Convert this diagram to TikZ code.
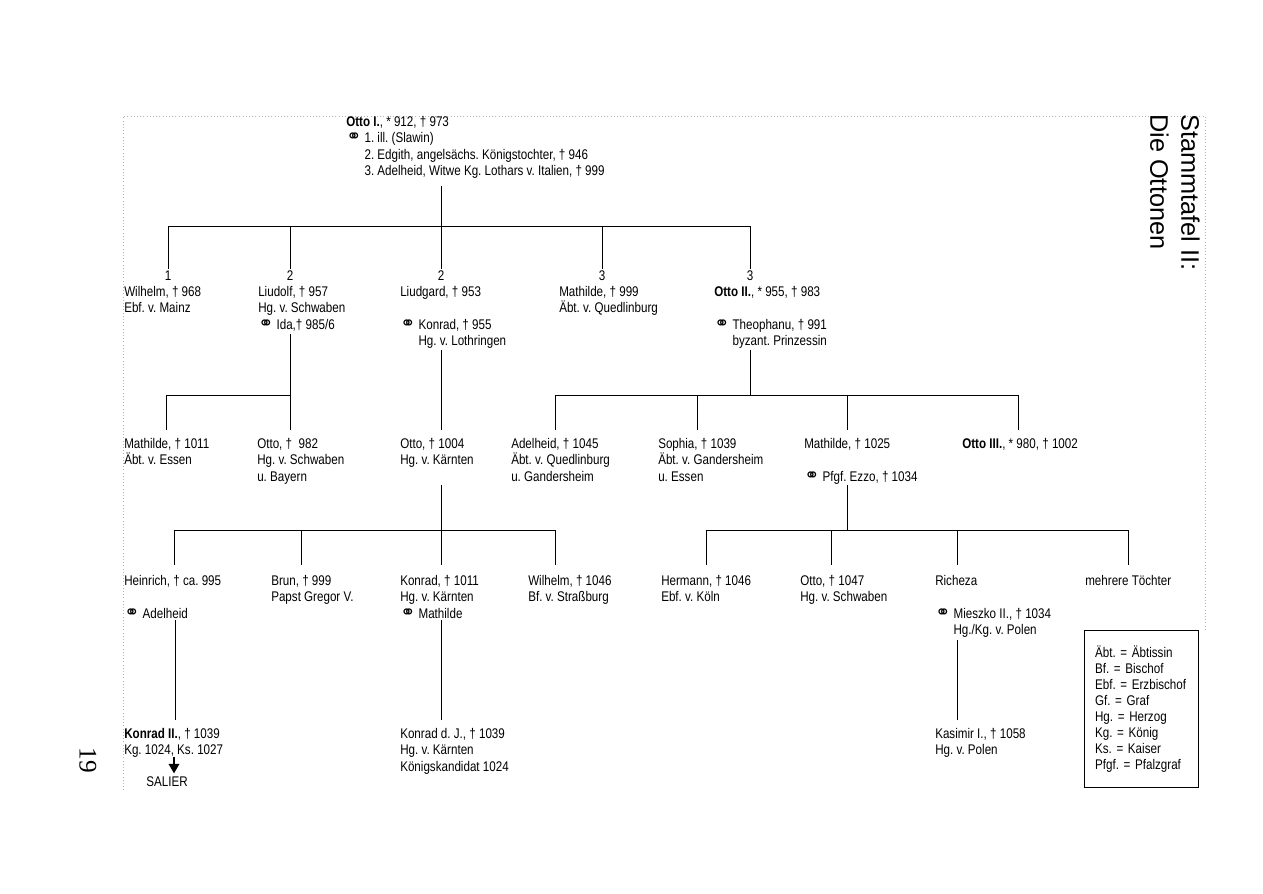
\documentclass[tikz,border=0pt]{standalone}
\usepackage{fontspec}
\setmainfont{Liberation Sans}[FakeStretch=0.83]
\newfontfamily\titelfont{Liberation Sans}
\newfontfamily\seitenfont{Liberation Serif}
\newfontfamily\symbolfont{DejaVu Sans}
\usetikzlibrary{arrows.meta}
\frenchspacing

% Heiratszeichen und der Einzug, der die Folgezeile unter den Namen stellt
\newcommand{\ehe}{{\symbolfont\fontsize{13.5}{12}\selectfont ⚭}}
\newcommand{\einzug}{\phantom{\ehe\ }}

\begin{document}
\begin{tikzpicture}[x=0.75pt, y=-0.75pt]
    % Personen werden an der Grundlinie ihrer ERSTEN Zeile gesetzt: die
    % Oberkante liegt um die Oberlänge (ca. 7.7pt) darüber, daher die yshift.
    \tikzstyle{person} = [anchor=north west, inner sep=0pt, align=left,
        yshift=7.7pt, font=\fontsize{10.5}{12.375}\selectfont]
    \tikzstyle{rang} = [anchor=base, inner sep=0pt, font=\fontsize{10.5}{12.375}\selectfont]
    \tikzstyle{linie} = [line width=0.6pt]
    \tikzstyle{rahmen} = [black!30, dotted, line width=0.4pt]
    \useasboundingbox (0,0) rectangle (1263,893);

    % Seitenrahmen (nur oben, links und rechts bis zur Legende)
    \draw [rahmen] (123,790) -- (123,116) -- (1205,116) -- (1205,630);

    \node (titel) [anchor=north west, rotate=-90, inner sep=0pt, align=left,
        font=\titelfont\fontsize{19}{23.25}\selectfont] at (1200,114)
        {Stammtafel II:\\Die Ottonen};
    \node (seite) [rotate=-90, font=\seitenfont\fontsize{19}{19}\selectfont] at (88,760) {19};

    % Generation 0
    \node (ottoI) [person] at (346,126) {\textbf{Otto I.}, * 912, † 973\\
        \ehe\ 1. ill. (Slawin)\\
        \einzug 2. Edgith, angelsächs. Königstochter, † 946\\
        \einzug 3. Adelheid, Witwe Kg. Lothars v. Italien, † 999};

    % Generation 1 mit der Nummer der Ehe darüber
    \node (r1) [rang] at (168,280) {1};
    \node (r2) [rang] at (290,280) {2};
    \node (r3) [rang] at (441,280) {2};
    \node (r4) [rang] at (602,280) {3};
    \node (r5) [rang] at (750,280) {3};
    \node (wilhelmI) [person] at (124,296) {Wilhelm, † 968\\Ebf. v. Mainz};
    \node (liudolf) [person] at (258,296) {Liudolf, † 957\\Hg. v. Schwaben\\\ehe\ Ida,† 985/6};
    \node (liudgard) [person] at (400,296) {Liudgard, † 953\\[12.375pt]
        \ehe\ Konrad, † 955\\\einzug Hg. v. Lothringen};
    \node (mathildeI) [person] at (559,296) {Mathilde, † 999\\Äbt. v. Quedlinburg};
    \node (ottoII) [person] at (714,296) {\textbf{Otto II.}, * 955, † 983\\[12.375pt]
        \ehe\ Theophanu, † 991\\\einzug byzant. Prinzessin};

    % Generation 2
    \node (mathildeE) [person] at (124,448) {Mathilde, † 1011\\Äbt. v. Essen};
    \node (otto982) [person] at (257,448) {Otto, †\ \ 982\\Hg. v. Schwaben\\u. Bayern};
    \node (otto1004) [person] at (400,448) {Otto, † 1004\\Hg. v. Kärnten};
    \node (adelheid) [person] at (511,448) {Adelheid, † 1045\\Äbt. v. Quedlinburg\\u. Gandersheim};
    \node (sophia) [person] at (658,448) {Sophia, † 1039\\Äbt. v. Gandersheim\\u. Essen};
    \node (mathildeZ) [person] at (804,448) {Mathilde, † 1025\\[12.375pt]\ehe\ Pfgf. Ezzo, † 1034};
    \node (ottoIII) [person] at (962,448) {\textbf{Otto III.}, * 980, † 1002};

    % Generation 3
    \node (heinrich) [person] at (124,585) {Heinrich, † ca. 995\\[12.375pt]\ehe\ Adelheid};
    \node (brun) [person] at (271,585) {Brun, † 999\\Papst Gregor V.};
    \node (konrad) [person] at (400,585) {Konrad, † 1011\\Hg. v. Kärnten\\\ehe\ Mathilde};
    \node (wilhelmS) [person] at (528,585) {Wilhelm, † 1046\\Bf. v. Straßburg};
    \node (hermann) [person] at (661,585) {Hermann, † 1046\\Ebf. v. Köln};
    \node (otto1047) [person] at (800,585) {Otto, † 1047\\Hg. v. Schwaben};
    \node (richeza) [person] at (935,585) {Richeza\\[12.375pt]
        \ehe\ Mieszko II., † 1034\\\einzug Hg./Kg. v. Polen};
    \node (toechter) [person] at (1085,585) {mehrere Töchter};

    % Generation 4
    \node (konradII) [person] at (124,738) {\textbf{Konrad II.}, † 1039\\Kg. 1024, Ks. 1027};
    \node (salier) [rang] at (167,786) {SALIER};
    \node (konradJ) [person] at (400,738) {Konrad d. J., † 1039\\Hg. v. Kärnten\\Königskandidat 1024};
    \node (kasimir) [person] at (935,738) {Kasimir I., † 1058\\Hg. v. Polen};

    \node (legende) [draw, line width=0.6pt, anchor=north west, inner xsep=8pt,
        minimum height=117.75pt, text width=69.5pt, align=left,
        font=\fontsize{10.5}{12}\selectfont] at (1084,630)
        {Äbt. = Äbtissin\\Bf. = Bischof\\Ebf. = Erzbischof\\Gf. = Graf\\
        Hg. = Herzog\\Kg. = König\\Ks. = Kaiser\\Pfgf. = Pfalzgraf};

    % Stammlinien: Abgang unter den Eltern, Querbalken, Abgänge zu den Kindern
    \coordinate (a0) at (441,186);  \coordinate (q0) at (441,226);
    \draw [linie] (a0) -- (q0);
    \draw [linie] (r1.north |- q0) -- (r5.north |- q0);
    \foreach \k in {r1,r2,r3,r4,r5}
        \draw [linie] (\k.north |- q0) -- ([yshift=1pt]\k.north);

    \coordinate (a1) at (290,334);  \coordinate (q1) at (290,395);
    \coordinate (k1) at (166,430);  \coordinate (k2) at (290,430);
    \draw [linie] (a1) -- (k2);
    \draw [linie] (k1) -- (k1 |- q1) -- (q1);

    \coordinate (a2) at (441,350);  \coordinate (k3) at (441,430);
    \draw [linie] (a2) -- (k3);

    \coordinate (a3) at (750,350);  \coordinate (q3) at (750,395);
    \draw [linie] (a3) -- (q3);
    \draw [linie] (555,395) -- (1018,395);
    \foreach \x in {555,697,847,1018}
        \draw [linie] (\x,395) -- (\x,430);

    \coordinate (a4) at (441,485);  \coordinate (q4) at (441,530);
    \draw [linie] (a4) -- (q4);
    \draw [linie] (174,530) -- (555,530);
    \foreach \x in {174,301,441,555}
        \draw [linie] (\x,530) -- (\x,565);

    \coordinate (a5) at (847,485);  \coordinate (q5) at (847,530);
    \draw [linie] (a5) -- (q5);
    \draw [linie] (706,530) -- (1128,530);
    \foreach \x in {706,831,957,1128}
        \draw [linie] (\x,530) -- (\x,565);

    \coordinate (a6) at (175,620);  \coordinate (k6) at (175,720);
    \coordinate (a7) at (441,620);  \coordinate (k7) at (441,720);
    \coordinate (a8) at (957,640);  \coordinate (k8) at (957,720);
    \draw [linie] (a6) -- (k6);
    \draw [linie] (a7) -- (k7);
    \draw [linie] (a8) -- (k8);

    \coordinate (p0) at (174,757);
    \draw [line width=0.8pt, -{Triangle[width=8pt, length=7pt]}] (p0) -- ([yshift=2pt]salier.north -| p0);
\end{tikzpicture}
\end{document}
